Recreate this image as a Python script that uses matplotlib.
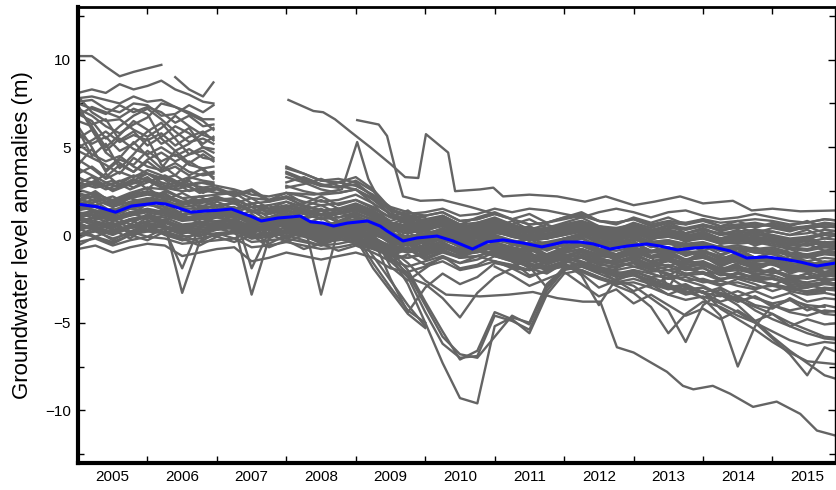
import numpy as np
import matplotlib
matplotlib.use("Agg")
import matplotlib.pyplot as plt
from matplotlib.ticker import FixedLocator, MultipleLocator, NullFormatter

plt.rcParams['font.family'] = ['Liberation Sans', 'DejaVu Sans']

N = np.nan

# time axes
quarters = np.arange(2005.0, 2016.01, 0.25)          # 2005.0 ... 2016.0, 45 steps
early_years = [2005.0, 2005.2, 2005.4, 2005.6, 2005.8, 2006.0,
               2006.2, 2006.4, 2006.6, 2006.8, 2006.95]

# wells recorded only 2005-2006 (high anomalies)
early_wells = [
    [10.2, 10.2, 9.6, 9.05, 9.3, 9.5, 9.7, N, N, N, N],
    [8.1, 8.3, 8.1, 8.6, 8.3, 8.5, 8.8, 8.3, 8.0, 7.6, 7.5],
    [N, N, N, N, N, N, N, 9.0, 8.3, 7.9, 8.7],
    [7.8, 7.9, 7.7, 7.5, 7.9, 7.6, 7.7, 7.3, 7.0, 6.6, 6.6],
    [7.5, 7.2, 6.9, 7.4, 7.0, 7.3, 7.0, 6.4, 6.8, 6.2, 6.3],
    [7.2, 6.8, 6.2, 5.8, 6.3, 6.7, 7.5, 7.3, 6.9, 6.5, 6.0],
    [7.9, 7.0, 6.5, 6.6, 6.0, 5.6, 6.1, 6.8, 6.2, 5.7, 5.5],
    [6.9, 6.5, 5.5, 6.2, 6.8, 7.2, 6.6, 5.9, 5.3, 5.5, 5.2],
    [6.5, 6.2, 5.0, 5.7, 6.5, 6.0, 5.2, 5.6, 6.1, 5.0, 4.9],
    [7.4, 6.0, 4.8, 5.5, 4.9, 4.6, 5.0, 4.5, 4.9, 4.4, 4.3],
    [5.8, 5.2, 5.6, 4.8, 5.2, 5.9, 6.4, 5.5, 4.6, 4.8, 4.4],
    [6.2, 5.0, 3.6, 4.3, 4.0, 4.8, 4.2, 4.6, 4.0, 3.8, 3.9],
    [4.8, 4.4, 4.0, 3.5, 4.4, 3.9, 3.7, 4.1, 3.6, 3.4, 3.5],
    [4.3, 3.8, 3.2, 3.6, 3.3, 3.7, 3.4, 3.0, 3.3, 3.1, 3.0],
    [3.8, 3.4, 3.0, 2.7, 3.1, 3.5, 3.2, 3.4, 2.9, 2.7, 2.8],
    [5.2, 4.6, 4.2, 4.5, 3.9, 3.5, 3.0, 2.8, 3.2, 3.5, 3.6],
    [7.6, 7.7, 7.2, 7.0, 7.5, 7.4, 6.8, 6.9, 7.4, 7.0, 7.4],
    [3.2, 3.0, 2.6, 2.9, 3.4, 3.1, 2.7, 3.0, 2.5, 2.7, 2.6],
    [5.0, 5.4, 5.9, 5.3, 5.7, 5.4, 5.8, 5.1, 5.6, 5.9, 5.4],
    [6.8, 7.3, 7.0, 6.7, 7.2, 6.9, 5.5, 4.8, 5.2, 5.8, 6.1],
    [2.9, 3.3, 2.8, 3.1, 2.7, 3.2, 2.9, 2.6, 2.8, 3.0, 2.9],
    [6.0, 4.5, 5.2, 3.8, 4.6, 5.5, 4.0, 3.4, 4.2, 3.7, 3.3],
    [4.0, 4.9, 3.7, 4.4, 5.3, 4.5, 3.8, 4.8, 4.1, 4.6, 4.2],
    [7.1, 6.3, 6.6, 5.4, 5.9, 5.1, 5.6, 6.2, 5.8, 5.2, 5.6],
    [3.5, 3.9, 3.3, 4.0, 3.6, 4.2, 3.6, 3.9, 3.4, 3.8, 3.2],
    [5.5, 6.0, 4.7, 4.1, 3.6, 4.3, 4.7, 4.2, 4.6, 5.0, 4.7],
    [2.6, 2.9, 3.5, 2.8, 3.2, 2.6, 3.3, 2.7, 3.1, 2.4, 2.7],
]

# wells in the main band, quarterly 2005.0 - 2016.0
band_wells = [
    [2.8, 3.0, 2.6, 2.9, 3.1, 2.7, 2.5, 2.6, 2.4, 2.5, 2.1, 2.0, 2.2, 1.9, 1.7, 1.8, 2.0,
     1.6, 1.0, 0.8, 0.9, 1.1, 0.6, 0.7, 0.9, 0.5, 0.3, 0.4, 0.6, 0.8, 0.4, 0.3, 0.5,
     0.1, 0.2, 0.0, -0.1, -0.4, -0.5, -0.4, -0.6, -0.8, -0.9, -0.7, -0.8],
    [0.6, 0.4, 0.2, 0.5, 0.7, 0.5, 0.3, 0.4, 0.5, 0.6, 0.2, 0.3, 0.4, 0.3, 0.1, 0.2, 0.4,
     0.3, -0.2, -0.4, -0.1, 0.1, -0.3, -0.2, 0.1, 0.0, -0.2, -0.1, 0.2, 0.3, 0.0, -0.1, 0.1,
     -0.2, 0.0, -0.1, 0.1, -0.2, 0.0, 0.1, -0.1, -0.3, -0.2, 0.0, -0.1],
    [1.5, 1.7, 1.2, 1.6, 1.9, 1.8, 1.2, 1.3, 1.5, 1.6, 0.9, 1.0, 1.2, 0.8, 0.5, 0.6, 0.9,
     0.5, -0.3, -0.5, -0.2, 0.1, -0.6, -0.5, -0.1, -0.4, -0.7, -0.6, -0.3, 0.0, -0.5, -0.6, -0.4,
     -0.9, -0.7, -1.0, -0.9, -1.4, -1.3, -1.5, -1.4, -1.8, -1.9, -1.7, -1.8],
    [2.2, 2.4, 1.9, 2.3, 2.5, 2.3, 1.9, 2.0, 2.1, 2.0, 1.6, 1.5, 1.7, 1.5, 1.2, 1.3, 1.5,
     1.2, 0.6, 0.4, 0.6, 0.7, 0.2, 0.3, 0.6, 0.3, 0.0, 0.1, 0.3, 0.5, 0.2, 0.1, 0.3,
     0.0, 0.2, 0.0, 0.1, -0.2, -0.1, 0.0, -0.1, -0.3, -0.4, -0.2, -0.3],
    [0.1, -0.1, -0.4, 0.0, 0.2, 0.1, -0.3, -0.2, 0.0, 0.1, -0.4, -0.3, -0.2, -0.4, -0.6, -0.5, -0.3,
     -0.6, -1.1, -1.3, -1.0, -0.8, -1.3, -1.2, -0.9, -1.1, -1.4, -1.3, -1.0, -0.8, -1.2, -1.3, -1.1,
     -1.5, -1.3, -1.6, -1.5, -1.9, -1.8, -2.0, -2.1, -2.4, -2.5, -2.3, -2.4],
    [1.0, 0.8, 0.5, 0.9, 1.1, 0.6, -3.3, -0.4, 0.7, 0.9, 0.4, 0.5, 0.7, 0.4, 0.2, 0.3, 0.5,
     0.2, -0.5, -0.6, -0.4, -0.2, -0.7, -0.6, -0.3, -0.5, -0.8, -0.7, -0.4, -0.2, -0.6, -0.7, -0.5,
     -0.9, -0.8, -1.0, -1.1, -1.5, -1.4, -1.6, -1.7, -2.0, -2.1, -1.9, -2.0],
    [1.8, 2.0, 1.6, 1.9, 2.1, 2.0, 1.6, 1.7, 1.5, 0.6, -3.4, -0.2, 1.0, 0.8, 0.6, 0.7, 0.9,
     0.6, 0.0, -0.2, 0.0, 0.2, -0.2, -0.1, 0.2, -0.1, -0.3, -0.2, 0.0, 0.2, -0.1, -0.2, 0.0,
     -0.4, -0.3, -0.5, -0.4, -0.7, -0.6, -0.8, -0.7, -1.0, -1.1, -0.9, -1.0],
    [0.4, 0.6, 0.3, 0.5, 0.8, 0.7, 0.4, 0.5, 0.6, 0.7, 0.3, 0.4, 0.6, 0.5, 0.3, 0.4, 0.6,
     0.4, -0.1, -0.2, 0.0, 0.2, -0.1, 0.0, 0.3, 0.1, -0.1, 0.0, 0.3, 0.5, 0.2, 0.1, 0.3,
     0.0, 0.2, 0.1, 0.3, 0.1, 0.2, 0.3, 0.2, 0.0, 0.1, 0.3, 0.2],
    [1.2, 1.4, 1.0, 1.3, 1.5, 1.3, 1.0, 1.1, 1.2, 1.3, 0.8, 0.8, 1.0, 0.7, 0.5, 0.6, 0.8,
     0.4, -0.2, -0.4, -0.2, 0.0, -0.4, -0.3, 0.0, -0.3, -0.5, -0.4, -0.2, 0.0, -0.4, -0.6, -0.7,
     -1.2, -1.1, -1.5, -1.7, -2.2, -2.4, -2.6, -2.8, -3.2, -3.4, -3.3, -3.5],
    [2.6, 2.3, 2.0, 2.4, 2.7, 2.6, 2.1, 2.2, 2.3, 2.4, 1.8, 1.9, 2.1, 1.7, 1.4, 1.5, 1.7,
     1.3, 0.7, 0.5, 0.7, 0.9, 0.4, 0.5, 0.8, 0.5, 0.2, 0.3, 0.5, 0.7, 0.4, 0.3, 0.5,
     0.2, 0.4, 0.3, 0.5, 0.3, 0.4, 0.5, 0.6, 0.4, 0.5, 0.7, 0.6],
    [0.0, 0.2, -0.2, 0.1, 0.3, 0.2, -0.1, 0.0, 0.1, 0.2, -0.2, -0.1, 0.1, -0.1, -0.4, -0.3, -0.1,
     -0.5, -1.4, -1.8, -1.5, -1.2, -1.9, -1.7, -1.2, -1.5, -1.8, -1.6, -1.2, -1.0, -1.4, -1.5, -1.3,
     -1.7, -1.5, -1.8, -1.7, -2.1, -2.0, -2.2, -2.3, -2.6, -2.7, -2.5, -2.6],
    [1.9, 1.6, 1.4, 1.8, 2.0, 1.9, 1.5, 1.5, 1.7, 1.8, 1.3, 1.2, 1.4, 1.2, 0.9, 1.0, 1.2,
     0.9, 0.3, 0.1, 0.3, 0.5, 0.0, 0.1, 0.4, 0.1, -0.1, 0.0, 0.2, 0.4, 0.1, 0.0, 0.2,
     -0.2, 0.0, -0.2, -0.1, -0.4, -0.3, -0.2, -0.4, -0.6, -0.5, -0.4, -0.5],
    [N, N, N, N, N, N, N, N, N, N, N, N, 1.6, 1.4, 1.1, 1.2, 1.4,
     1.0, 0.4, 0.2, 0.4, 0.6, 0.1, 0.2, 0.5, 0.2, -0.1, 0.0, 0.3, 0.5, 0.1, 0.0, 0.2,
     -0.2, -0.1, -0.3, -0.2, -0.5, -0.4, -0.3, -0.5, -0.7, -0.8, -0.6, -0.7],
    [N, N, N, N, N, N, N, N, N, N, N, N, 3.6, 3.2, 2.8, 2.7, 2.9,
     2.2, 1.1, 0.6, 0.8, 1.0, 0.5, 0.6, 0.9, 0.6, 0.3, 0.4, 0.6, 0.8, 0.5, 0.4, 0.6,
     0.3, 0.5, 0.4, 0.6, 0.4, 0.5, 0.6, 0.5, 0.3, 0.4, 0.6, 0.5],
    [N, N, N, N, N, N, N, N, N, N, N, N, 3.3, 3.0, 2.6, 2.4, 2.6,
     1.8, 0.6, 0.2, 0.4, 0.6, 0.0, 0.1, 0.4, 0.0, -0.3, -0.2, 0.1, 0.3, -0.1, -0.2, 0.0,
     -0.4, -0.3, -0.6, -0.5, -0.9, -0.8, -1.0, -1.1, -1.4, -1.5, -1.3, -1.4],
    [N, N, N, N, N, N, N, N, N, N, N, N, 3.8, 3.5, 3.1, 3.0, 3.3,
     2.6, 1.5, 1.0, 1.1, 1.3, 0.8, 0.9, 1.2, 0.9, 0.6, 0.7, 0.9, 1.1, 0.8, 0.7, 0.9,
     0.6, 0.8, 0.7, 0.9, 0.7, 0.8, 0.9, 0.8, 0.6, 0.7, 0.9, 0.8],
    [0.3, 0.5, 0.1, 0.4, 0.6, 0.5, 0.2, 0.3, 0.4, 0.5, 0.0, 0.1, 0.3, 0.1, -0.1, 0.0, 0.2,
     -0.1, -0.8, -1.0, -0.8, -0.6, -1.1, -1.0, -0.7, -0.9, -1.2, -1.1, -0.8, -0.6, -1.0, -1.1, -0.9,
     -1.3, -1.2, -1.4, -1.3, -1.6, -1.5, -1.7, -1.6, -1.9, -2.0, -1.8, -1.9],
    [3.0, 2.7, 2.9, 3.3, 3.5, 3.2, 2.8, 3.0, 2.8, 2.6, 2.3, 2.2, 2.4, 2.2, 1.9, 2.0, 2.3,
     1.8, 1.2, 0.9, 1.1, 1.3, 0.8, 0.9, 1.2, 0.9, 0.6, 0.7, 1.0, 1.2, 0.8, 0.7, 0.9,
     0.5, 0.7, 0.6, 0.8, 0.5, 0.6, 0.7, 0.5, 0.3, 0.4, 0.5, 0.4],
    [0.8, 1.0, 0.6, 0.9, 1.1, 1.0, 0.6, 0.7, 0.8, 0.9, 0.5, 0.5, 0.7, 0.5, 0.2, 0.3, 0.5,
     0.2, -0.4, -0.6, -0.4, -0.2, -0.6, -0.5, -0.2, -0.5, -0.7, -0.6, -0.3, -0.1, -0.8, -1.5, -1.2,
     -1.9, -1.4, -2.0, -1.8, -2.6, -2.2, -2.5, -2.4, -2.9, -3.0, -2.7, -2.8],
    [1.3, 1.1, 0.8, 1.2, 1.4, 1.2, 0.9, 1.0, 1.1, 1.2, 0.7, 0.7, 0.9, 0.6, 0.4, 0.5, 0.7,
     0.1, -1.8, -2.6, -1.9, -1.2, -1.6, -1.4, -1.0, -1.2, -1.5, -1.4, -1.0, -0.8, -1.2, -1.3, -1.1,
     -1.5, -1.4, -1.7, -1.6, -2.0, -1.9, -2.1, -2.0, -2.3, -2.4, -2.2, -2.3],
    [2.0, 2.2, 1.7, 2.1, 2.3, 2.1, 1.8, 1.8, 2.0, 1.9, 1.4, 1.4, 1.6, 1.3, 1.1, 1.2, 1.4,
     1.1, 0.5, 0.3, 0.5, 0.7, 0.3, 0.4, 0.7, 0.4, 0.1, 0.2, 0.4, 0.6, 0.3, 0.2, 0.4,
     0.1, 0.3, 0.1, 0.3, 0.0, 0.1, 0.2, 0.0, -0.2, -0.1, 0.1, 0.0],
    [-0.4, -0.2, -0.6, -0.3, -0.1, -0.2, -0.5, -0.4, -0.3, -0.2, -0.7, -0.6, -0.4, -0.6, -0.8, -0.7, -0.5,
     -0.8, -1.2, -1.3, -1.1, -0.9, -1.3, -1.2, -0.9, -1.1, -1.4, -1.3, -1.0, -0.8, -1.1, -1.2, -1.0,
     -1.3, -1.2, -1.4, -1.3, -1.6, -1.5, -1.7, -1.6, -1.8, -1.9, -1.7, -1.8],
    [1.1, 1.3, 0.9, 1.2, 1.4, 1.3, 0.9, 1.0, 1.1, 1.2, 0.7, 0.8, 0.9, 0.7, 0.5, 0.5, 0.7,
     0.5, 0.0, -0.1, 0.1, 0.3, -0.1, 0.0, 0.3, 0.0, -0.2, -0.1, 0.1, 0.3, 0.0, -0.1, 0.1,
     -0.2, -0.1, -0.3, -0.2, -0.4, -0.3, -0.2, -0.3, -0.5, -0.6, -0.4, -0.5],
    [0.9, 0.7, 0.4, 0.8, 1.0, 0.8, 0.5, 0.6, 0.7, 0.8, 0.3, 0.4, 0.6, 0.3, 0.1, 0.2, 0.4,
     -0.2, -2.5, -4.4, -3.0, -2.2, -2.8, -2.4, -1.6, -1.8, -2.0, -1.7, -1.3, -1.1, -1.5, -1.6, -1.4,
     -1.8, -1.7, -2.0, -1.9, -2.3, -2.2, -2.4, -2.5, -2.8, -2.9, -2.7, -2.8],
    [N, N, N, N, N, N, N, N, N, N, N, N, 2.8, 2.5, 2.3, 2.4, 2.6,
     2.1, 1.4, 1.2, 1.3, 1.5, 1.1, 1.2, 1.5, 1.3, 1.5, 1.4, 1.2, 1.0, 1.3, 1.5, 1.3,
     1.0, 1.3, 1.4, 1.1, 0.9, 1.0, 1.2, 1.0, 0.8, 0.7, 0.9, 0.8],
    [1.6, 1.4, 1.1, 1.5, 1.7, 1.6, 1.2, 1.2, 1.3, 1.4, 0.9, 0.9, 1.1, 0.9, 0.6, 0.7, 0.9,
     0.7, 0.1, -0.1, 0.1, 0.3, -0.2, -0.1, 0.2, -0.1, -0.3, -0.2, 0.0, 0.2, -0.2, -0.3, -0.1,
     -0.5, -0.4, -0.6, -0.5, -0.8, -0.7, -0.9, -0.8, -1.1, -1.2, -1.0, -1.1],
    [0.5, 0.3, 0.0, 0.4, 0.5, 0.4, 0.1, 0.2, 0.3, 0.4, -0.1, 0.0, 0.2, 0.0, -0.2, -0.1, 0.1,
     -0.2, -0.6, -0.8, -0.6, -0.4, -0.9, -0.8, -0.5, -0.7, -0.9, -0.8, -0.6, -0.4, -0.8, -0.9, -0.7,
     -1.0, -0.9, -1.1, -1.0, -1.3, -1.2, -1.4, -1.3, -1.6, -1.7, -1.5, -1.6],
    [N, N, N, N, N, N, N, N, N, N, N, N, 0.4, 0.2, 0.0, 0.1, 0.3,
     -0.1, -0.7, -0.9, -0.7, -0.5, -1.0, -0.9, -0.6, -1.5, -2.3, -2.1, -1.6, -1.2, -2.0, -2.6, -2.2,
     -2.9, -2.4, -3.0, -3.3, -3.8, -3.5, -4.0, -4.2, -3.6, -4.1, -4.4, -4.3],
    [2.4, 2.1, 1.8, 2.2, 2.4, 2.2, 1.8, 1.9, 2.0, 2.1, 1.6, 1.7, 1.9, 1.6, 1.4, 1.4, 1.6,
     1.3, 0.6, 0.4, 0.6, 0.8, 0.4, 0.5, 0.8, 0.5, 0.2, 0.3, 0.5, 0.7, 0.3, 0.2, 0.4,
     0.0, 0.1, -0.1, 0.0, -0.3, -0.2, -0.1, -0.3, -0.5, -0.6, -0.4, -0.5],
    [-0.8, -0.6, -1.0, -0.7, -0.5, -0.6, -1.2, -1.0, -0.8, -0.7, -1.5, -1.3, -1.0, -1.2, -1.4, -1.2, -1.0,
     -1.3, -1.9, -2.1, -1.8, -1.5, -2.0, -1.8, -1.5, -1.7, -2.0, -1.8, -1.5, -1.3, -1.7, -1.8, -1.6,
     -2.0, -1.8, -2.2, -2.1, -2.5, -2.4, -2.6, -2.8, -3.1, -3.0, -2.8, -2.9],
    [1.4, 1.6, 1.1, 1.5, 1.4, 0.3, -1.9, 0.5, 1.2, 1.3, -1.9, 0.2, 1.0, 0.8, -3.4, 0.4, 0.6,
     0.4, -0.2, -0.4, -0.2, 0.0, -0.5, -0.4, -0.1, -0.4, -0.6, -0.5, -0.2, 0.0, -0.3, -0.4, -0.2,
     -0.6, -0.5, -0.7, -0.6, -0.9, -0.8, -1.0, -0.9, -1.2, -1.3, -1.1, -1.2],
    [1.0, 1.2, 0.8, 1.1, 1.3, 1.1, 0.8, 0.9, 1.0, 1.1, 0.6, 0.6, 0.8, 0.6, 0.3, 0.4, 0.6,
     0.3, -0.3, -0.5, -0.3, -0.1, -0.5, -0.4, -0.1, -0.4, -0.6, -0.5, -0.2, 0.0, -0.4, -0.5, -0.3,
     -1.2, -3.0, -1.5, -0.9, -1.3, -1.2, -1.5, -1.4, -1.7, -1.8, -1.6, -1.7],
    [1.7, 1.3, 1.5, 1.1, 1.8, 1.4, 1.0, 1.6, 1.2, 1.0, 1.4, 0.8, 1.3, 0.6, 1.0, 0.4, 0.9,
     0.2, 0.5, -0.3, 0.3, -0.1, 0.2, -0.5, 0.0, -0.6, -0.2, -0.8, -0.3, 0.1, -0.4, -0.7, -0.2,
     -0.6, -1.0, -0.5, -0.9, -1.2, -0.8, -1.3, -1.0, -1.4, -1.1, -1.6, -1.3],
    [0.2, 0.7, 0.4, 0.9, 0.3, 0.8, 0.5, 0.1, 0.6, 0.3, 0.7, 0.0, 0.5, 0.2, -0.1, 0.3, 0.0,
     -0.3, -0.6, -0.1, -0.8, -0.3, -0.6, -0.9, -0.4, -0.7, -1.0, -0.6, -0.9, -0.5, -0.8, -1.1, -0.7,
     -1.0, -0.7, -1.2, -0.9, -1.4, -1.0, -1.3, -1.6, -1.2, -1.5, -1.8, -1.6],
    [2.4, 1.9, 2.2, 1.7, 2.0, 2.5, 2.1, 1.6, 1.9, 1.5, 1.8, 1.3, 1.6, 1.2, 1.5, 1.0, 1.3,
     0.8, 0.4, 0.9, 0.2, 0.6, 0.0, 0.4, 0.7, 0.2, 0.5, -0.1, 0.3, 0.6, 0.1, -0.2, 0.2,
     -0.3, 0.1, -0.4, -0.1, -0.5, -0.2, -0.6, -0.3, -0.8, -0.5, -0.9, -0.7],
    [-0.2, 0.3, -0.3, 0.2, -0.1, 0.4, 0.0, -0.4, 0.1, -0.2, 0.2, -0.5, 0.0, -0.3, -0.6, -0.2, -0.5,
     -0.8, -1.1, -0.7, -1.3, -0.9, -1.2, -0.8, -1.1, -1.4, -1.0, -1.5, -1.2, -0.9, -1.3, -1.6, -1.2,
     -1.5, -1.8, -1.4, -1.7, -2.0, -1.6, -1.9, -2.2, -1.8, -2.1, -2.4, -2.2],
    [1.3, 0.9, 1.1, 0.6, 1.2, 0.8, 1.4, 1.0, 0.7, 1.1, 0.6, 0.9, 0.4, 0.8, 0.3, 0.7, 0.5,
     0.1, -0.4, 0.0, -0.6, -0.2, -0.5, -0.1, -0.4, -0.8, -0.4, -0.9, -0.5, -0.2, -0.6, -0.3, -0.7,
     -0.4, -0.8, -0.5, -0.9, -0.6, -1.0, -0.7, -1.1, -0.8, -1.2, -0.9, -1.0],
    [2.0, 2.5, 1.8, 2.3, 2.7, 2.0, 2.4, 1.9, 2.2, 1.8, 2.1, 1.5, 1.9, 1.4, 1.7, 1.2, 1.6,
     1.1, 0.6, 1.0, 0.3, 0.7, 0.2, 0.6, 0.4, 0.8, 0.3, 0.6, 0.2, 0.7, 0.4, 0.1, 0.5,
     0.2, 0.6, 0.1, 0.4, 0.0, 0.3, -0.1, 0.2, 0.0, 0.3, -0.2, 0.1],
    [0.9, 0.5, 0.7, 0.2, 0.6, 0.1, 0.4, 0.8, 0.3, 0.6, 0.1, 0.4, -0.1, 0.3, -0.2, 0.1, -0.3,
     -0.6, -1.0, -0.5, -1.2, -0.7, -1.1, -0.6, -0.9, -1.2, -0.8, -1.3, -0.9, -0.6, -1.0, -1.4, -1.0,
     -1.6, -1.2, -1.9, -1.5, -2.1, -1.7, -2.3, -1.9, -2.5, -2.2, -2.7, -2.4],
    [3.3, 2.8, 3.1, 2.6, 3.0, 3.4, 2.9, 2.5, 2.7, 2.3, 2.6, 2.0, 2.4, 1.8, 2.2, 1.7, 2.0,
     1.5, 1.0, 1.4, 0.7, 1.1, 0.6, 1.0, 1.3, 0.9, 1.2, 0.7, 1.0, 1.3, 0.8, 0.6, 1.0,
     0.7, 1.0, 0.6, 0.9, 0.5, 0.8, 0.4, 0.7, 0.5, 0.8, 0.4, 0.6],
    [0.6, 1.1, 0.8, 1.3, 0.9, 1.5, 1.1, 0.7, 1.0, 0.8, 1.2, 0.5, 0.9, 0.6, 0.3, 0.7, 0.4,
     0.0, -0.3, 0.2, -0.5, -0.1, -0.4, 0.1, -0.2, -0.5, -0.1, -0.6, -0.2, 0.1, -0.3, -0.6, -0.2,
     -0.7, -0.4, -0.9, -0.6, -1.1, -0.8, -1.3, -1.0, -1.5, -1.2, -1.6, -1.4],
    [-0.6, -0.1, -0.5, 0.0, -0.3, 0.2, -0.2, -0.6, -0.1, -0.4, 0.0, -0.7, -0.3, -0.8, -0.5, -0.9, -0.6,
     -1.0, -1.5, -1.1, -1.7, -1.3, -1.6, -1.2, -1.5, -1.8, -1.4, -1.9, -1.5, -1.2, -1.6, -1.9, -1.5,
     -1.9, -2.3, -1.8, -2.2, -2.6, -2.1, -2.5, -2.9, -2.4, -2.8, -3.1, -2.9],
    [1.9, 2.3, 1.6, 2.1, 1.8, 2.4, 1.7, 2.0, 1.6, 1.9, 1.3, 1.7, 1.1, 1.5, 0.9, 1.3, 1.0,
     0.6, 0.1, 0.5, -0.2, 0.2, -0.3, 0.1, 0.4, 0.0, 0.3, -0.2, 0.1, 0.4, -0.1, -0.3, 0.1,
     -0.2, 0.2, -0.3, 0.0, -0.4, -0.1, -0.5, -0.2, -0.6, -0.3, -0.7, -0.5],
    [1.1, 0.6, 0.9, 0.4, 1.0, 0.5, 0.2, 0.7, 0.4, 0.8, 0.2, 0.6, 0.1, 0.5, 0.0, 0.4, 0.1,
     -0.2, -0.7, -0.3, -0.9, -0.5, -0.8, -0.4, -0.7, -1.0, -0.6, -1.1, -0.7, -0.4, -0.8, -1.1, -0.8,
     -1.2, -0.9, -1.4, -1.1, -1.6, -1.3, -1.8, -1.5, -2.0, -1.7, -2.1, -1.9],
    [2.7, 3.1, 2.5, 2.9, 3.3, 2.6, 3.0, 2.4, 2.6, 2.2, 2.5, 1.9, 2.2, 1.6, 2.0, 1.5, 1.8,
     1.4, 0.8, 1.1, 0.5, 0.9, 0.3, 0.7, 1.0, 0.6, 0.9, 0.4, 0.7, 1.0, 0.5, 0.3, 0.7,
     0.4, 0.7, 0.3, 0.6, 0.2, 0.5, 0.1, 0.4, 0.2, 0.5, 0.1, 0.3],
    [0.4, -0.1, 0.3, -0.2, 0.5, 0.0, -0.3, 0.2, -0.1, 0.3, -0.2, 0.1, -0.4, 0.0, -0.5, -0.1, -0.4,
     -0.7, -1.2, -0.8, -1.4, -1.0, -1.3, -0.9, -1.2, -1.5, -1.1, -1.6, -1.2, -0.9, -1.3, -1.6, -1.3,
     -1.7, -1.4, -1.9, -1.6, -2.1, -1.8, -2.3, -2.0, -2.5, -2.2, -2.6, -2.4],
    [1.5, 1.9, 1.3, 1.7, 2.1, 1.6, 1.9, 1.4, 1.7, 1.3, 1.6, 1.0, 1.4, 0.9, 1.2, 0.7, 1.1,
     0.7, 0.2, 0.6, -0.1, 0.3, -0.2, 0.2, 0.5, 0.1, 0.4, -0.1, 0.2, 0.5, 0.0, -0.2, 0.2,
     -0.1, 0.2, -0.2, 0.1, -0.3, 0.0, -0.4, -0.1, -0.5, -0.2, -0.6, -0.4],
    [0.0, 0.4, 0.1, 0.6, 0.2, 0.7, 0.3, -0.1, 0.4, 0.1, 0.5, -0.2, 0.3, 0.0, -0.3, 0.1, -0.2,
     -0.4, -0.9, -0.5, -1.1, -0.7, -1.0, -0.6, -0.9, -1.2, -0.8, -1.3, -0.9, -0.6, -1.0, -1.3, -0.9,
     -1.3, -1.0, -1.5, -1.2, -1.7, -1.4, -1.9, -1.6, -2.1, -1.8, -2.2, -2.0],
    [2.1, 1.7, 2.0, 1.5, 1.9, 1.4, 1.8, 2.2, 1.7, 1.4, 1.8, 1.2, 1.5, 1.0, 1.4, 0.8, 1.2,
     0.9, 0.3, 0.7, 0.0, 0.4, -0.1, 0.3, 0.6, 0.2, 0.5, 0.0, 0.3, 0.6, 0.2, -0.1, 0.3,
     0.0, 0.3, -0.1, 0.2, -0.2, 0.1, -0.3, 0.0, -0.4, -0.1, -0.5, -0.3],
    [0.7, 0.3, 0.6, 0.1, 0.5, 0.9, 0.4, 0.0, 0.3, 0.5, -0.1, 0.3, -0.2, 0.2, -0.4, 0.0, -0.3,
     -0.5, -0.9, -0.4, -1.0, -0.6, -0.9, -0.5, -0.8, -1.1, -0.7, -1.2, -0.8, -0.5, -0.9, -1.2, -0.9,
     -1.3, -1.0, -1.5, -1.2, -1.8, -1.4, -2.0, -1.6, -2.2, -1.9, -2.3, -2.1],
]

# short records that start in 2008 (quarterly 2008.0 - 2010.0)
wells_2008 = [
    [3.9, 3.5, 3.1, 3.2, 3.0, 2.2, 1.4, 1.0, 0.8],
    [3.0, 3.3, 2.9, 2.7, 3.1, 2.5, 1.5, 1.1, 1.0],
    [2.7, 2.9, 3.2, 2.8, 2.6, 2.0, 1.2, 0.7, 0.6],
    [3.5, 3.1, 2.8, 3.0, 2.8, 2.3, 1.6, 1.3, 1.1],
]

# wells with the 2010 drawdown (quarterly from 2008.0)
deep_wells = [
    [0.4, 0.2, 0.0, 0.1, 0.2, -0.5, -1.2, -2.8, -5.0, -7.3, -9.3, -9.6, -5.2, -4.7, -5.0, -2.8, -1.9,
     -1.7, -2.0, -2.2, -2.1, -2.4, -2.3, -2.6, -2.5, -2.8, -2.7, -3.0, -2.9, -3.1, -3.2, -3.0, -3.1],
    [0.6, 0.4, 0.1, 0.3, 0.4, -0.4, -1.0, -2.4, -4.4, -6.2, -7.0, -6.9, -4.6, -4.9, -5.4, -3.2, -2.0,
     -1.8, -2.1, -2.3, -2.0, -2.2, -2.5, -2.4, -2.7, -2.6, -2.9, -3.1, -2.8, -3.0, -3.3, -3.2],
    [0.2, 0.0, -0.2, -0.1, 0.0, -0.6, -1.3, -2.2, -4.0, -5.8, -6.8, -7.0, -5.8, -4.6, -5.1, -3.0, -1.8,
     -1.6, -1.9, -2.0, -1.8, -2.1, -2.0, -2.3, -2.2, -2.5, -2.4, -2.6, -2.5, -2.7, -2.8, -2.7],
    [0.5, 0.3, 0.1, 0.2, 0.3, -0.3, -0.9, -2.0, -3.8, -5.5, -7.1, -6.6, -4.4, -4.8, -5.6, -3.4, -2.2,
     -2.0, -2.4, -2.7, -2.5, -2.8, -3.1, -2.9, -3.3, -3.5, -3.2, -3.6, -3.9, -3.7, -4.0, -4.1],
    [0.3, 0.1, -0.1, 0.0, 0.1, -0.4, -1.5, -2.4, -2.8, -3.6, -4.7, -3.3, -2.4, -1.9, -2.0, -1.4, -1.1,
     -1.3, -1.6, -1.5, -1.8, -1.7, -2.0, -1.9, -2.2, -2.1, -2.4, -2.3, -2.5, -2.6, -2.4, -2.5],
    [0.7, 0.5, 0.3, 0.4, 0.2, -1.2, -2.6, -4.0, -5.2],
    [0.5, 0.3, 0.1, 0.2, 0.0, -1.6, -3.0, -4.3, -5.0],
    [0.6, 0.4, 0.2, 0.1, -0.2, -1.9, -3.2, -4.5, -5.3],
]

# wells falling after 2012 (quarterly from 2011.0)
late_wells = [
    [-0.8, -1.0, -1.3, -1.6, -1.4, -1.8, -2.2, -2.6, -2.9, -3.6, -4.3, -6.1, -4.0, -3.3, -3.6, -4.3, -4.8, -5.2, -5.6, -5.9, -6.0],
    [-1.0, -1.2, -1.6, -1.9, -1.5, -1.7, -2.0, -2.3, -2.1, -2.4, -2.8, -3.2, -3.6, -4.6, -7.5, -5.2, -4.0, -4.4, -4.6, -4.3, -4.4],
    [-0.6, -0.8, -1.1, -1.3, -1.1, -1.3, -1.5, -1.7, -1.6, -1.9, -2.2, -2.6, -2.9, -3.4, -4.0, -4.9, -5.8, -6.6, -7.3, -8.0, -8.3],
    [-1.2, -1.4, -1.7, -2.0, -1.8, -2.1, -2.5, -2.8, -2.7, -3.0, -3.4, -3.7, -3.5, -3.9, -4.4, -5.0, -5.9, -6.8, -8.0, -6.4, -6.8],
    [-0.9, -1.1, -1.4, -1.6, -1.3, -1.6, -1.9, -2.2, -2.0, -2.5, -3.0, -3.4, -3.2, -4.2, -4.8, -5.4, -6.1, -6.7, -7.2, -7.3, -7.4],
    [-0.7, -0.9, -1.2, -1.5, -1.2, -1.5, -1.8, -2.1, -2.3, -2.6, -2.9, -3.1, -3.0, -3.3, -3.7, -4.1, -4.5, -5.0, -5.4, -5.8, -5.9],
    [-1.5, -1.9, -2.4, -2.0, -1.6, -2.2, -3.0, -2.6, -3.2, -2.8, -3.4, -3.0, -3.6, -3.1, -3.8, -3.5, -4.1, -3.7, -4.3, -4.0, -4.2],
    [-1.8, -2.3, -2.9, -2.5, -2.1, -2.8, -3.5, -3.1, -3.9, -3.4, -4.0, -4.6, -4.2, -4.8, -4.3, -4.9, -4.5, -5.2, -4.8, -5.1, -5.0],
    [-1.0, -1.3, -1.9, -2.2, -1.6, -2.3, -4.0, -2.5, -2.3, -2.7, -3.0, -2.8, -3.3, -3.0, -3.5, -3.2, -3.6, -3.3, -3.8, -3.6, -3.7],
    [-0.8, -1.2, -1.8, -3.0, -1.9, -1.6, -2.0, -2.4, -2.2, -2.6, -2.9, -3.3, -3.0, -3.4, -3.8, -3.5, -4.0, -4.3, -4.1, -4.5, -4.6],
    [-1.1, -1.4, -1.7, -1.9, -1.7, -2.0, -2.4, -2.9, -3.3, -4.1, -5.6, -4.5, -3.8, -4.1, -4.6, -5.0, -5.5, -6.0, -6.3, -6.1, -6.2],
    [-0.9, -1.2, -1.5, -1.4, -1.2, -1.6, -2.0, -1.8, -1.6, -2.2, -2.5, -2.2, -2.6, -2.9, -2.5, -2.8, -3.2, -2.9, -3.3, -3.1, -3.2],
]

# individual wells traced point by point
high_2008_years = [2008.03, 2008.39, 2008.53, 2008.7, 2008.92, 2009.21, 2009.5, 2009.71, 2009.9,
                   2010.01, 2010.33, 2010.43, 2010.79, 2010.98, 2011.12, 2011.5, 2011.9, 2012.3,
                   2012.6, 2013.0, 2013.3, 2013.67, 2014.0, 2014.43, 2014.7, 2015.0, 2015.4, 2015.92]
high_2008_values = [7.7, 7.07, 7.0, 6.6, 5.9, 5.0, 4.05, 3.3, 3.25,
                    5.75, 4.7, 2.5, 2.6, 2.7, 2.2, 2.3, 2.2, 1.9,
                    2.2, 1.7, 1.9, 2.2, 1.8, 1.95, 1.4, 1.5, 1.35, 1.4]
high_2009_years = [2009.02, 2009.33, 2009.45, 2009.57, 2009.68, 2009.93, 2010.25, 2010.65, 2011.0]
high_2009_values = [6.55, 6.3, 5.65, 3.75, 2.2, 1.95, 2.0, 1.6, 1.2]
peak_years = [2008.0, 2008.4, 2008.8, 2009.02, 2009.18, 2009.35, 2009.6, 2010.0]
peak_values = [2.4, 2.3, 2.6, 5.3, 3.2, 1.9, 1.0, 0.5]
decline_years = [2008.0, 2008.5, 2009.0, 2009.5, 2009.75, 2010.0, 2010.3, 2010.79, 2011.2, 2011.55,
                 2011.9, 2012.27, 2012.52, 2012.76, 2013.0, 2013.48, 2013.71, 2013.86, 2014.14,
                 2014.39, 2014.72, 2015.06, 2015.4, 2015.64, 2015.92]
decline_values = [0.5, 0.2, 0.3, -0.8, -1.6, -2.6, -3.4, -3.5, -3.4, -3.25,
                  -3.6, -3.8, -3.8, -6.4, -6.7, -7.8, -8.6, -8.8, -8.6,
                  -9.05, -9.8, -9.5, -10.2, -11.15, -11.45]

# mean of all wells
mean_years = [2005.05, 2005.29, 2005.54, 2005.77, 2006.12, 2006.26, 2006.40, 2006.63, 2006.83,
              2006.99, 2007.21, 2007.50, 2007.64, 2007.88, 2008.07, 2008.20, 2008.35, 2008.53,
              2008.68, 2008.88, 2009.17, 2009.35, 2009.45, 2009.68, 2009.88, 2010.17, 2010.40,
              2010.68, 2010.89, 2011.12, 2011.41, 2011.68, 2011.99, 2012.23, 2012.42, 2012.66,
              2012.91, 2013.19, 2013.38, 2013.63, 2013.86, 2014.14, 2014.39, 2014.63, 2014.92,
              2015.15, 2015.40, 2015.64, 2015.90]
mean_values = [1.73, 1.6, 1.3, 1.65, 1.82, 1.77, 1.6, 1.3, 1.37,
               1.4, 1.48, 1.05, 0.8, 0.97, 1.03, 1.08, 0.75, 0.68,
               0.51, 0.68, 0.8, 0.51, 0.23, -0.34, -0.17, -0.06, -0.34,
               -0.8, -0.4, -0.28, -0.46, -0.68, -0.4, -0.4, -0.51, -0.8,
               -0.63, -0.51, -0.63, -0.85, -0.74, -0.68, -0.91, -1.31, -1.25,
               -1.37, -1.54, -1.77, -1.6]

year_labels = [str(y) for y in range(2005, 2016)]

gray = '#646464'
lw = 1.7

fig = plt.figure(figsize=(8.36, 4.90), dpi=100)
ax = fig.add_axes([78 / 836, 27 / 490, 757 / 836, 456 / 490])

def draw(xs, ys):
    ax.plot(xs[:len(ys)], ys, color=gray, lw=lw, solid_joinstyle='round', zorder=2)

for v in band_wells:
    draw(quarters, v)
for v in early_wells:
    draw(early_years, v)
for v in wells_2008:
    draw(quarters[12:], v)
for v in deep_wells:
    draw(quarters[12:], v)
for v in late_wells:
    draw(quarters[24:], v)
draw(high_2008_years, high_2008_values)
draw(high_2009_years, high_2009_values)
draw(peak_years, peak_values)
draw(decline_years, decline_values)

ax.plot(mean_years, mean_values, color='#0000ff', lw=2.2, zorder=3)

ax.set_xlim(2005.0, 2015.9)
ax.set_ylim(-13, 13)

# year boundaries as ticks, year names centred in between
ax.xaxis.set_major_locator(FixedLocator(list(range(2006, 2016))))
ax.xaxis.set_major_formatter(NullFormatter())
ax.set_xticks([y + 0.5 for y in range(2005, 2016)], minor=True)
ax.set_xticklabels(year_labels, minor=True)
ax.tick_params(axis='x', which='minor', length=0, labelsize=11, pad=5)
ax.tick_params(axis='x', which='major', direction='in', length=5, width=1, top=True)

ax.set_yticks([-10, -5, 0, 5, 10])
ax.yaxis.set_minor_locator(MultipleLocator(2.5))
ax.tick_params(axis='y', which='both', direction='in', right=True, width=1, labelsize=11, pad=5)
ax.tick_params(axis='y', which='major', length=5)
ax.tick_params(axis='y', which='minor', length=4)

ax.set_ylabel('Groundwater level anomalies (m)', fontsize=16, labelpad=9)

ax.spines['left'].set_linewidth(3)
ax.spines['bottom'].set_linewidth(3)
ax.spines['top'].set_linewidth(2)
ax.spines['right'].set_linewidth(1)

fig.savefig('out.png', dpi=100)
